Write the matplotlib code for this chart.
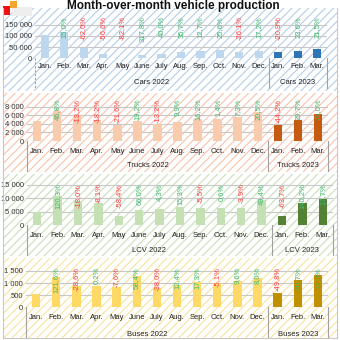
import matplotlib
matplotlib.use("Agg")
import matplotlib.pyplot as plt
from matplotlib.patches import Rectangle
from matplotlib.lines import Line2D
from matplotlib import transforms

plt.rcParams["font.family"] = ["Liberation Sans", "DejaVu Sans"]
plt.rcParams["hatch.linewidth"] = 0.8

# Data
MONTHS_2022 = ["Jan.", "Feb.", "Mar.", "Apr.", "May", "June", "July", "Aug.",
               "Sep.", "Oct.", "Nov.", "Dec."]
MONTHS_2023 = ["Jan.", "Feb.", "Mar."]

CARS_2022 = [102000, 117300, 44600, 19350, 3460, 14470, 20250, 27480, 30970,
             38900, 28750, 33690]
CARS_2023 = [26650, 32940, 40020]
CARS_PCT = [15.0, -62.0, -56.6, -82.1, 317.8, 40.0, 35.7, 12.7, 25.6, -26.1,
            17.2, -20.9, 23.6, 21.5]

TRUCKS_2022 = [4700, 6900, 5990, 4900, 3840, 4580, 3975, 4370, 5075, 5150,
               5525, 6660]
TRUCKS_2023 = [3715, 4820, 6215]
TRUCKS_PCT = [46.8, -13.2, -18.2, -21.6, 19.2, -13.2, 9.9, 16.2, 1.4, 7.3,
              20.5, -44.2, 29.7, 29.0]

LCV_2022 = [5000, 11015, 9030, 8300, 3455, 5735, 5980, 6895, 6515, 6555,
            6300, 9410]
LCV_2023 = [3415, 8205, 9660]
LCV_PCT = [120.3, -18.0, -8.1, -58.4, 66.0, 4.3, 15.3, -5.5, 0.6, -3.9,
           49.4, -63.7, 140.2, 17.7]

BUSES_2022 = [560, 1241, 886, 888, 820, 1299, 805, 905, 1062, 1008, 1105, 1193]
BUSES_2023 = [599, 1136, 1333]
BUSES_PCT = [121.6, -28.6, 0.2, -7.6, 58.4, -38.0, 12.4, 17.3, -5.1, 9.6,
             8.0, -49.8, 89.7, 17.3]

GREEN = "#3cb86e"
RED = "#ff3b3b"
GRID = "#c8c8c8"
FS = 5.5

W = H = 340
fig = plt.figure(figsize=(3.4, 3.4), dpi=100)


def fx(px):
    return px / W


def fy(py):
    return 1 - py / H


def fmt_thousands(v):
    return f"{v:,}".replace(",", " ")


def panel(name, v22, v23, pct, ticks, ymax, box, bg, c22, c23, hatch_col,
          month_dy, group_dy, line_bottom, left_ls="-"):
    left, right, top, zero = box
    fig.patches.append(Rectangle((fx(3), fy(bg[1])), fx(334), (bg[1] - bg[0]) / H,
                                 transform=fig.transFigure, facecolor="white",
                                 edgecolor=hatch_col, hatch="////", lw=0, zorder=-10))
    ax = fig.add_axes([fx(left), fy(zero), (right - left) / W, (zero - top) / H])
    ax.patch.set_visible(False)
    values = v22 + v23
    x = list(range(len(values)))
    colors = [c22] * len(v22) + [c23] * len(v23)
    ax.bar(x, values, width=0.42, color=colors, zorder=2)
    ax.set_xlim(-0.5, len(values) - 0.5)
    ax.set_ylim(0, ymax)
    ax.set_yticks(ticks)
    ax.set_yticklabels([fmt_thousands(t) for t in ticks])
    ax.tick_params(axis="y", length=0, pad=2, labelsize=FS, labelcolor="#333333")
    ax.set_xticks([])
    for s in ax.spines.values():
        s.set_visible(False)
    for t in ticks:
        ax.axhline(t, color=GRID, lw=0.8, zorder=1)

    # percentage change labels
    for i, p in enumerate(pct, start=1):
        ax.text(i, ymax, f"{p:.1f}%".replace(".", ","), rotation=90,
                ha="center", va="top", fontsize=5.5,
                color=GREEN if p >= 0 else RED, zorder=3, clip_on=False)

    # grouped category axis
    xt = ax.get_xaxis_transform()
    tm = transforms.offset_copy(xt, fig=fig, y=-month_dy, units="dots")
    tg = transforms.offset_copy(xt, fig=fig, y=-group_dy, units="dots")
    for i, m in enumerate(MONTHS_2022 + MONTHS_2023):
        ax.text(i, 0, m, transform=tm, ha="center", va="center", fontsize=FS,
                color="#222222")
    n22 = len(v22)
    ax.text((n22 - 1) / 2, 0, f"{name} 2022", transform=tg, ha="center",
            va="center", fontsize=FS, color="#222222")
    ax.text(n22 + (len(v23) - 1) / 2, 0, f"{name} 2023", transform=tg,
            ha="center", va="center", fontsize=FS, color="#222222")
    ybot = -(line_bottom - zero) / (zero - top)
    for xv, ls in [(-0.5, left_ls), (n22 - 0.5, "-"), (len(values) - 0.5, "-")]:
        ax.add_line(Line2D([xv, xv], [0, ybot], transform=xt, color="#a0a0a0",
                           lw=0.8, ls=ls, clip_on=False))
    return ax


panel("Cars", CARS_2022, CARS_2023, CARS_PCT, [0, 50000, 100000, 150000], 189000,
      (35, 327, 16, 58.3), (8, 91), "#bdd7ee", "#2e75b6", "#b5cde8",
      8.7, 24.7, 88, left_ls=(0, (2, 1.5)))
panel("Trucks", TRUCKS_2022, TRUCKS_2023, TRUCKS_PCT, [0, 2000, 4000, 6000, 8000],
      9910, (27, 328, 98.5, 141), (93, 172), "#f8cbad", "#c55a11", "#f6c3ac",
      10, 24.7, 171)
panel("LCV", LCV_2022, LCV_2023, LCV_PCT, [0, 5000, 10000, 15000], 15560,
      (27, 333, 183.5, 225), (174, 256), "#c5e0b4", "#548235", "#c9e0bb",
      10.7, 25.7, 255)
panel("Buses", BUSES_2022, BUSES_2023, BUSES_PCT, [0, 500, 1000, 1500], 1665,
      (26, 328, 267, 307.3), (258, 338), "#ffd966", "#bf9000", "#f8e29c",
      10, 26.7, 338)

# outer frame
for xs, ys in [([3, 3], [8, 338]), ([337, 337], [8, 338]), ([3, 337], [338, 338])]:
    fig.add_artist(Line2D([fx(v) for v in xs], [fy(v) for v in ys],
                          transform=fig.transFigure, color="#c8c8c8", lw=0.8))

# logo
fig.patches.append(Rectangle((fx(12), fy(16)), 20 / W, 9 / H, transform=fig.transFigure,
                             facecolor="#eeeeee", lw=0))
fig.patches.append(Rectangle((fx(10), fy(8)), 7 / W, 7 / H, transform=fig.transFigure,
                             facecolor="#f7a531", lw=0))
fig.patches.append(Rectangle((fx(3), fy(15)), 7 / W, 9 / H, transform=fig.transFigure,
                             facecolor="#ee1111", lw=0))

fig.text(0.51, fy(5.5), "Month-over-month vehicle production", ha="center",
         va="center", fontsize=8.5, fontweight="bold", color="#111111")

fig.savefig("out.png", dpi=100)
